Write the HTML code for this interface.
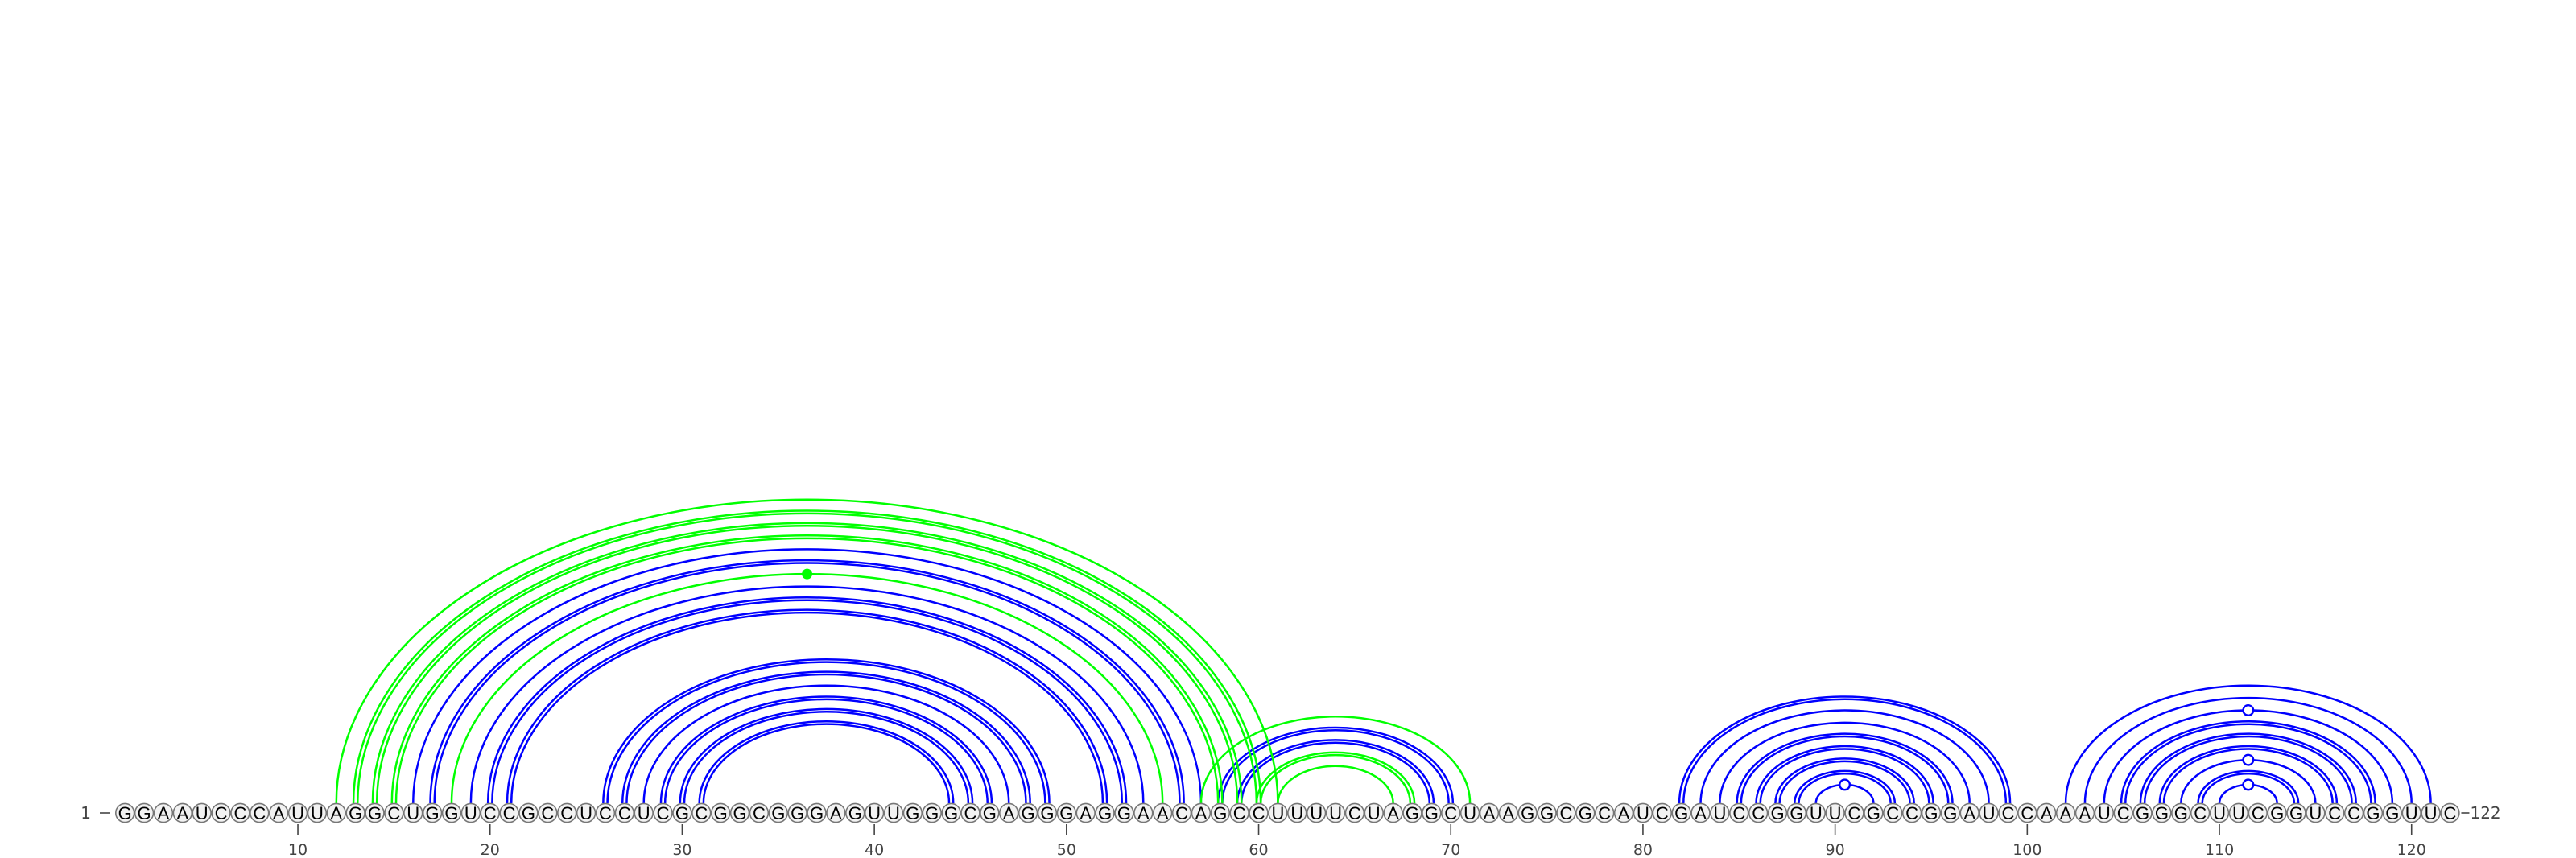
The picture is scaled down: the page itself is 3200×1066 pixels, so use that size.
<!DOCTYPE html>
<html><head><meta charset="utf-8">
<style>
html,body{margin:0;padding:0;background:#fff;}
svg{display:block;}
</style></head>
<body>
<svg id="chart" xmlns="http://www.w3.org/2000/svg" width="3200" height="1066" viewBox="0 0 3200 1066">
<rect width="3200" height="1066" fill="#fff"/>
<g id="arcs"></g>
<g id="bases"></g>
<g id="axis"></g>
</svg>
<script>
const sequence = "GGAAUCCCAUUAGGCUGGUCCGCCUCCUCGCGGCGGGAGUUGGGCGAGGGAGGAACAGCCUUUUCUAGGCUAAGGCGCAUCGAUCCGGUUCGCCGGAUCCAAAUCGGGCUUCGGUCCGGUUC";
const tickValues = [10,20,30,40,50,60,70,80,90,100,110,120];
// blue structure pairs
const blueI = [16,17,19,20,21,26,27,28,29,30,31,58,59,82,83,84,85,86,87,88,89,102,103,104,105,106,107,108,109,110];
const blueJ = [57,56,54,53,52,49,48,47,46,45,44,70,69,99,98,97,96,95,94,93,92,121,120,119,118,117,116,115,114,113];
const blueDouble = [0,1,0,1,1,1,1,0,1,1,1,1,1,1,0,0,1,1,1,1,0,0,0,0,1,1,1,0,1,0];
const blueMarker = [0,0,0,0,0,0,0,0,0,0,0,0,0,0,0,0,0,0,0,0,1,0,0,1,0,0,0,1,0,1];
// green structure pairs
const greenI = [12,13,14,15,18,57,60,61];
const greenJ = [61,60,59,58,55,71,68,67];
const greenDouble = [0,1,1,1,0,0,1,0];
const greenMarker = [0,0,0,0,1,0,0,0];

const NS = "http://www.w3.org/2000/svg";
const X0 = 155.2, STEP = 23.87, BASE_Y = 1010, ARC_Y = 998, RATIO = 0.645;
const GREEN = '#00ff00', BLUE = '#0000ff';
function xPos(p){ return X0 + (p - 1) * STEP; }
function mk(tag, attrs, parent){
  const el = document.createElementNS(NS, tag);
  for (const k in attrs) el.setAttribute(k, attrs[k]);
  parent.appendChild(el);
  return el;
}
const arcs = document.getElementById('arcs');
const bases = document.getElementById('bases');
const axis = document.getElementById('axis');

function arcPath(x1, x2){
  const rx = (x2 - x1) / 2, ry = rx * RATIO;
  return `M ${x1} ${ARC_Y} A ${rx} ${ry} 0 0 1 ${x2} ${ARC_Y}`;
}
function drawPairs(I, J, D, M, color, name){
  for (let k = 0; k < I.length; k++){
    const x1 = xPos(I[k]), x2 = xPos(J[k]);
    const g = mk('g', {}, arcs);
    
    
    const offs = D[k] ? [-2.6, 2.6] : [0];
    for (const o of offs){
      mk('path', {d: arcPath(x1 + o, x2 - o), fill: 'none', stroke: color, 'stroke-width': 2.5}, g);
    }
    if (M[k]){
      const cx = (x1 + x2) / 2, cy = ARC_Y - (x2 - x1) / 2 * RATIO;
      const m = mk('circle', color === GREEN ? {cx: cx, cy: cy, r: 6.5, fill: color} : {cx: cx, cy: cy, r: 6.3, fill: '#fff', stroke: color, 'stroke-width': 2.4}, g);
      
      
    }
  }
}
drawPairs(blueI, blueJ, blueDouble, blueMarker, BLUE, 'blue');
drawPairs(greenI, greenJ, greenDouble, greenMarker, GREEN, 'green');

for (let i = 0; i < sequence.length; i++){
  const cx = xPos(i + 1);
  const g = mk('g', {}, bases);
  
  
  mk('ellipse', {cx: cx, cy: BASE_Y, rx: 11.4, ry: 11.6, fill: '#f2f2f2', stroke: '#777', 'stroke-width': 1.6}, g);
  const t = mk('text', {x: cx, y: BASE_Y + 8, 'text-anchor': 'middle', 'font-family': 'Liberation Sans, sans-serif', 'font-size': 22, fill: '#000'}, g);
  t.textContent = sequence[i];
}
// end labels
const l1 = mk('text', {x: 113, y: BASE_Y + 7, 'text-anchor': 'end', 'font-family': 'DejaVu Sans, sans-serif', 'font-size': 20, fill: '#444'}, axis);
l1.textContent = '1';


mk('line', {x1: 124, x2: 137, y1: BASE_Y, y2: BASE_Y, stroke: '#444', 'stroke-width': 1.6}, axis);
mk('line', {x1: xPos(sequence.length) + 14, x2: xPos(sequence.length) + 24, y1: BASE_Y, y2: BASE_Y, stroke: '#444', 'stroke-width': 1.6}, axis);
const l2 = mk('text', {x: xPos(sequence.length) + 25, y: BASE_Y + 7, 'font-family': 'DejaVu Sans, sans-serif', 'font-size': 20, fill: '#444'}, axis);
l2.textContent = '122';



for (const v of tickValues){
  const x = xPos(v);
  const tk = mk('line', {x1: x, x2: x, y1: 1024, y2: 1037, stroke: '#444', 'stroke-width': 1.6}, axis);
  
  
  const tl = mk('text', {x: x, y: 1062, 'text-anchor': 'middle', 'font-family': 'DejaVu Sans, sans-serif', 'font-size': 19, fill: '#444'}, axis);
  tl.textContent = String(v);
  
  
}
</script>
</body></html>
